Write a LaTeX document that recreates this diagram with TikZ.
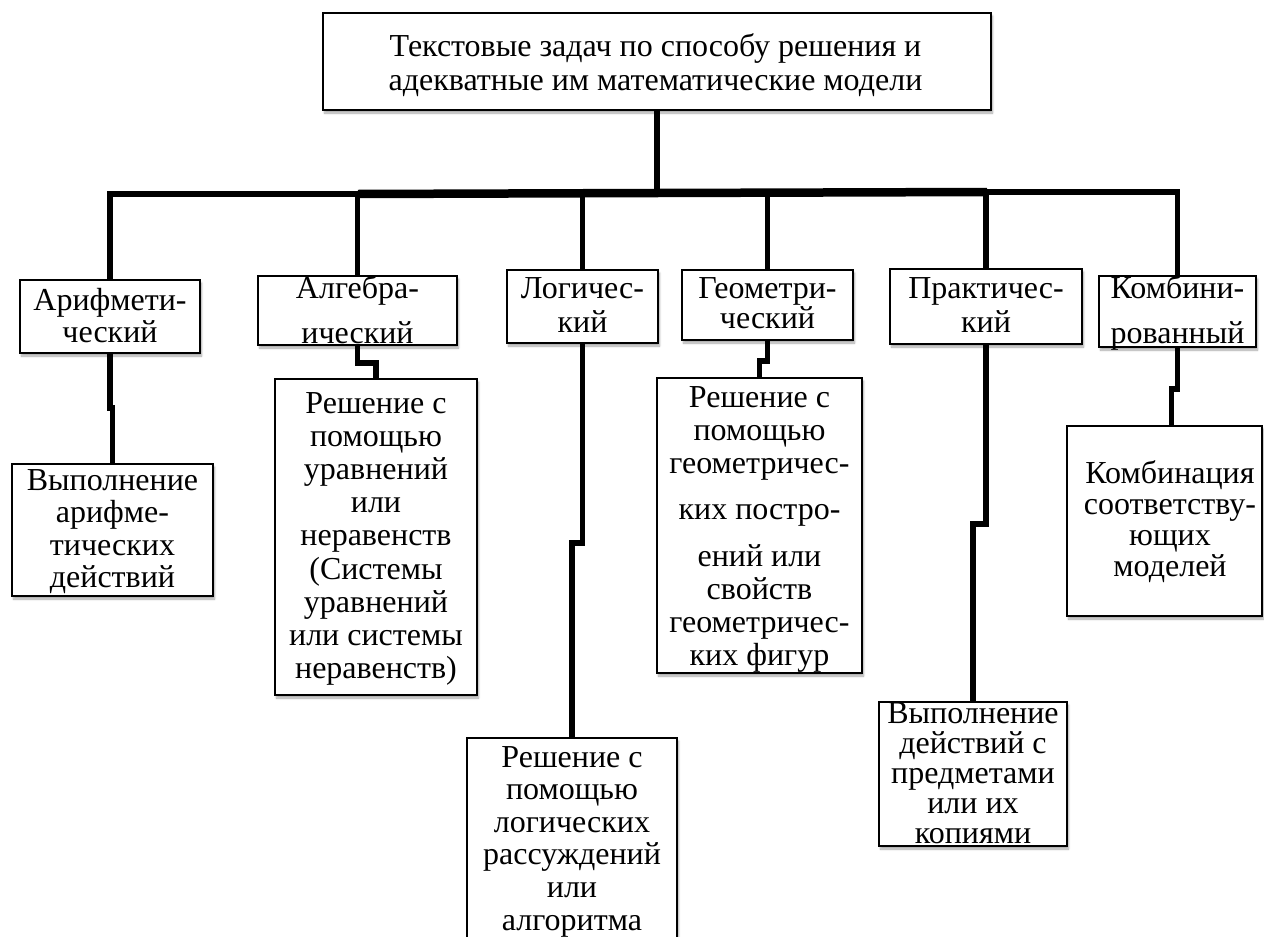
\documentclass[tikz,border=0pt]{standalone}
\usepackage{fontspec}
\setmainfont{Liberation Serif}
\usetikzlibrary{shadows.blur}
\tikzset{
  box/.style={draw=black, line width=1.5pt, fill=white, inner sep=0pt,
    blur shadow={shadow xshift=1.5pt, shadow yshift=-3pt, shadow blur steps=6,
      shadow blur radius=2pt, shadow opacity=35}},
  conn/.style={line width=5.5pt, line join=miter},
  bar/.style={line width=8.5pt},
  txt/.style={inner sep=0pt, anchor=base},
}
\newcommand{\btext}[6][250]{%
  \node[txt] (#2) at (#3,#4) {\fontsize{32}{#5}\selectfont\parbox[t]{#1pt}{\centering #6}};}
\begin{document}
\begin{tikzpicture}[x=1pt,y=-1pt]
\useasboundingbox (0,0) rectangle (1264,937);
% boxes
\node[box, minimum width=668, minimum height=97] (title) at (657,61.5) {};
\node[box, minimum width=180, minimum height=73] (ar) at (110,316.5) {};
\node[box, minimum width=199, minimum height=69] (al) at (357.5,310.5) {};
\node[box, minimum width=151, minimum height=73] (lo) at (582.5,306.5) {};
\node[box, minimum width=171, minimum height=70] (ge) at (767.5,305) {};
\node[box, minimum width=192, minimum height=75] (pr) at (986,306.5) {};
\node[box, minimum width=157, minimum height=71] (co) at (1177.5,311.5) {};
\node[box, minimum width=201, minimum height=132] (ar2) at (112.5,530) {};
\node[box, minimum width=202, minimum height=316] (al2) at (376,537) {};
\node[box, minimum width=210, minimum height=212] (lo2) at (572,844) {};
\node[box, minimum width=205, minimum height=295] (ge2) at (759.5,525.5) {};
\node[box, minimum width=188, minimum height=144] (pr2) at (973,774) {};
\node[box, minimum width=195, minimum height=190] (co2) at (1164.5,521) {};
% junctions
\coordinate (hub) at (657,193);
\coordinate (jA) at (358,194);
\coordinate (jB) at (987,192);
% top connectors
\draw[conn] (title.south) -- (hub);
\draw[bar] (jA) -- (hub) -- (jB);
\draw[conn] (ar.north) |- (jA);
\draw[conn] (al.north) -- (al.north |- jA);
\draw[conn] (lo.north) -- (lo.north |- hub);
\draw[conn] (ge.north) -- (ge.north |- hub);
\draw[conn] (pr.north) -- (pr.north |- jB);
\draw[conn] (jB) -| (co.north);
% lower connectors
\draw[conn] (ar.south) -- ++(0,54) -| (ar2.north);
\draw[conn] (al.south) -- ++(0,17) -| (al2.north);
\draw[conn] (lo.south) -- ++(0,199) -| (lo2.north);
\draw[conn] (ge.south) -- ++(0,20) -| (ge2.north);
\draw[conn] (pr.south) -- ++(0,179) -| (pr2.north);
\draw[conn] (co.south) -- ++(0,41) -| ([xshift=7pt]co2.north);
% texts
\btext[640]{titlet}{655.5}{56}{34}{Текстовые задач по способу решения и\\адекватные им математические модели}
\btext{art}{110}{310}{32}{Арифмети-\\ческий}
\btext{alt}{357.5}{298}{45}{Алгебра-\\ический}
\btext{lot}{582.5}{298}{34}{Логичес-\\кий}
\btext{get}{767.5}{298}{30}{Геометри-\\ческий}
\btext{prt}{986}{298}{34}{Практичес-\\кий}
\btext{cot}{1177.5}{298}{45}{Комбини-\\рованный}
\btext{ar2t}{112.5}{490}{32.5}{Выполнение\\арифме-\\тических\\действий}
\btext{al2t}{376}{413}{33.2}{Решение с\\помощью\\уравнений\\или\\неравенств\\(Системы\\уравнений\\или системы\\неравенств)}
\btext{ge2t}{759.5}{407}{33}{Решение с\\помощью\\геометричес-\\[13pt]ких постро-\\[14pt]ений или\\свойств\\геометричес-\\ких фигур}
\btext{lo2t}{572}{767}{32.6}{Решение с\\помощью\\логических\\рассуждений\\или\\алгоритма}
\btext{pr2t}{973}{723}{30}{Выполнение\\действий с\\предметами\\или их\\копиями}
\btext{co2t}{1170}{483}{31}{Комбинация\\соответству-\\ющих\\моделей}
\end{tikzpicture}
\end{document}
